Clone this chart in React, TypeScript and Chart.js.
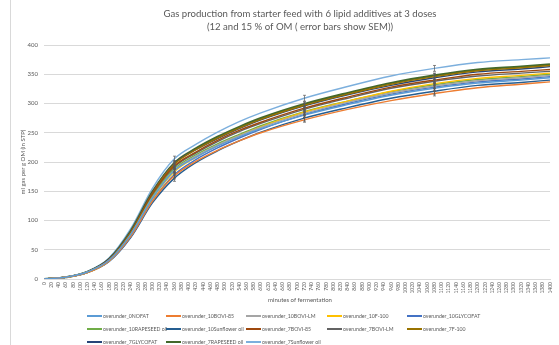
import React, { useEffect, useRef } from "react";
import { Chart, registerables } from "chart.js";

Chart.register(...registerables);

const TITLE_LINES = [
  "Gas production from starter feed with 6 lipid additives at 3 doses",
  "(12 and 15 % of OM ( error bars show SEM))",
];
const X_TITLE = "minutes of fermentation";
const Y_TITLE = "ml gas per g OM (in STP)";

// x tick labels (minutes), every 20
const X_TICKS: number[] = [];
for (let m = 0; m <= 1400; m += 20) X_TICKS.push(m);
const Y_TICKS = [0, 50, 100, 150, 200, 250, 300, 350, 400];

// sampling times (minutes)
const TIMES = [0, 60, 120, 180, 240, 300, 360, 420, 480, 540, 600, 720, 840, 960, 1080, 1200, 1320, 1400];

const NAMES = [
  "overunder_0NOFAT",
  "overunder_10BOVI-85",
  "overunder_10BOVI-LM",
  "overunder_10F-100",
  "overunder_10GLYCOFAT",
  "overunder_10RAPESEED oil",
  "overunder_10Sunflower oil",
  "overunder_7BOVI-85",
  "overunder_7BOVI-LM",
  "overunder_7F-100",
  "overunder_7GLYCOFAT",
  "overunder_7RAPESEED oil",
  "overunder_7Sunflower oil",
];

const V_0NOFAT = [0, 3, 12, 32, 76, 138, 185, 208, 227, 243, 257, 280, 298, 314, 326, 335, 340, 344];
const V_10BOVI85 = [0, 3, 11, 31, 73, 133, 176, 201, 220, 236, 250, 272, 290, 305, 317, 327, 333, 337];
const V_10BOVILM = [0, 3, 12, 32, 76, 139, 186, 210, 229, 245, 259, 283, 302, 318, 330, 339, 344, 348];
const V_10F100 = [0, 3, 11, 31, 74, 137, 183, 208, 228, 245, 260, 285, 304, 321, 334, 343, 348, 352];
const V_10GLYCOFAT = [0, 3, 11, 30, 72, 133, 178, 204, 224, 241, 256, 281, 300, 316, 328, 337, 342, 346];
const V_10RAPESEED = [0, 3, 12, 32, 77, 141, 188, 212, 231, 247, 262, 286, 304, 320, 332, 341, 346, 350];
const V_10SUNFLOWER = [0, 3, 11, 30, 71, 130, 172, 199, 219, 236, 251, 275, 293, 309, 321, 331, 336, 340];
const V_7BOVI85 = [0, 3, 12, 33, 79, 145, 193, 217, 237, 254, 268, 292, 311, 328, 340, 350, 355, 358];
const V_7BOVILM = [0, 3, 12, 33, 78, 143, 191, 215, 235, 252, 266, 290, 309, 326, 338, 347, 352, 355];
const V_7F100 = [0, 3, 12, 33, 80, 147, 196, 221, 241, 258, 273, 297, 316, 333, 346, 356, 361, 365];
const V_7GLYCOFAT = [0, 3, 12, 34, 81, 148, 197, 221, 240, 257, 272, 296, 315, 331, 344, 354, 359, 363];
const V_7RAPESEED = [0, 3, 12, 34, 82, 149, 198, 223, 243, 260, 275, 299, 318, 335, 348, 358, 363, 367];
const V_7SUNFLOWER = [0, 3, 13, 36, 86, 155, 205, 230, 251, 269, 284, 309, 329, 347, 360, 370, 375, 378];

const SERIES = [
  V_0NOFAT, V_10BOVI85, V_10BOVILM, V_10F100, V_10GLYCOFAT, V_10RAPESEED, V_10SUNFLOWER,
  V_7BOVI85, V_7BOVILM, V_7F100, V_7GLYCOFAT, V_7RAPESEED, V_7SUNFLOWER,
];

// error bars (SEM) at these times, one value per series
const ERR_TIMES = [360, 720, 1080];
const SEM_360 = [4, 5, 4, 4, 5, 4, 5, 4, 4, 4, 5, 4, 5];
const SEM_720 = [4, 4, 4, 4, 4, 4, 5, 4, 4, 4, 4, 4, 5];
const SEM_1080 = [5, 4, 4, 4, 5, 4, 5, 4, 4, 5, 4, 4, 5];
const SEMS = [SEM_360, SEM_720, SEM_1080];

const COLORS = [
  "#5B9BD5", "#ED7D31", "#A5A5A5", "#FFC000", "#4472C4", "#70AD47", "#255E91",
  "#9E480E", "#636363", "#997300", "#264478", "#43682B", "#7CAFDD",
];

const FONT = "Lato, 'Open Sans', sans-serif";
const TEXT = "#595959";

const decor = {
  id: "decor",
  beforeDraw(chart: any) {
    const { ctx, width, height } = chart;
    ctx.save();
    ctx.fillStyle = "#ffffff";
    ctx.fillRect(0, 0, width, height);
    ctx.strokeStyle = "#d9d9d9";
    ctx.lineWidth = 1;
    ctx.beginPath();
    ctx.moveTo(10.5, 0);
    ctx.lineTo(10.5, height);
    ctx.stroke();
    ctx.restore();
  },
  afterDatasetsDraw(chart: any) {
    const { ctx } = chart;
    const xs = chart.scales.x;
    const ys = chart.scales.y;
    ctx.save();
    ctx.strokeStyle = "#595959";
    ctx.lineWidth = 0.7;
    ERR_TIMES.forEach((t, k) => {
      const idx = TIMES.indexOf(t);
      const px = Math.round(xs.getPixelForValue(t)) + 0.5;
      SERIES.forEach((s, i) => {
        const v = s[idx];
        const e = SEMS[k][i];
        const y1 = ys.getPixelForValue(v + e);
        const y2 = ys.getPixelForValue(v - e);
        ctx.beginPath();
        ctx.moveTo(px, y1);
        ctx.lineTo(px, y2);
        ctx.moveTo(px - 1.5, y1);
        ctx.lineTo(px + 1.5, y1);
        ctx.moveTo(px - 1.5, y2);
        ctx.lineTo(px + 1.5, y2);
        ctx.stroke();
      });
    });
    ctx.restore();
  },
  afterDraw(chart: any) {
    const { ctx, chartArea } = chart;
    ctx.save();
    ctx.fillStyle = TEXT;
    ctx.textAlign = "center";
    ctx.textBaseline = "middle";
    ctx.font = `9.6px ${FONT}`;
    ctx.fillText(TITLE_LINES[0], 300, 14);
    ctx.fillText(TITLE_LINES[1], 300, 27);
    ctx.font = `6px ${FONT}`;
    ctx.fillText(X_TITLE, 300, 300);
    ctx.save();
    ctx.translate(23, (chartArea.top + chartArea.bottom) / 2);
    ctx.rotate(-Math.PI / 2);
    ctx.fillText(Y_TITLE, 0, 0);
    ctx.restore();

    // legend: 5 columns
    ctx.font = `5.2px ${FONT}`;
    ctx.textAlign = "left";
    const colX = [87, 166, 246, 327, 407];
    const rowY = [316, 329, 342];
    NAMES.forEach((name, i) => {
      const c = i % 5;
      const r = Math.floor(i / 5);
      const x = colX[c];
      const y = rowY[r];
      ctx.strokeStyle = COLORS[i];
      ctx.lineWidth = 2;
      ctx.beginPath();
      ctx.moveTo(x, y);
      ctx.lineTo(x + 15, y);
      ctx.stroke();
      ctx.fillStyle = TEXT;
      ctx.fillText(name, x + 16, y);
    });
    ctx.restore();
  },
};

export default function App() {
  const ref = useRef<HTMLCanvasElement | null>(null);
  useEffect(() => {
    if (!ref.current) return;
    const chart = new Chart(ref.current, {
      type: "line",
      data: {
        datasets: SERIES.map((s, i) => ({
          label: NAMES[i],
          data: s.map((v, j) => ({ x: TIMES[j], y: v })),
          borderColor: COLORS[i],
          backgroundColor: COLORS[i],
          borderWidth: i === 11 ? 2.2 : 1.4,
          pointRadius: 0,
          cubicInterpolationMode: "monotone" as const,
          fill: false,
        })),
      },
      options: {
        responsive: false,
        animation: false,
        devicePixelRatio: 1,
        layout: { padding: { top: 45, right: 4, bottom: 40, left: 0 } },
        plugins: {
          legend: { display: false },
          title: { display: false },
          tooltip: { enabled: false },
        },
        scales: {
          x: {
            type: "linear",
            min: 0,
            max: 1400,
            afterBuildTicks: (scale: any) => {
              scale.ticks = X_TICKS.map((v) => ({ value: v }));
            },
            afterFit: (scale: any) => {
              scale.height = 26;
            },
            grid: { display: false, drawTicks: false },
            border: { display: true, color: "#d9d9d9" },
            ticks: {
              autoSkip: false,
              maxRotation: 90,
              minRotation: 90,
              padding: 3,
              color: TEXT,
              font: { size: 5, family: FONT },
              callback: (v: any) => String(v),
            },
          },
          y: {
            min: 0,
            max: 400,
            afterBuildTicks: (scale: any) => {
              scale.ticks = Y_TICKS.map((v) => ({ value: v }));
            },
            afterFit: (scale: any) => {
              scale.width = 44;
            },
            grid: { color: "#d9d9d9", drawTicks: false },
            border: { display: false },
            ticks: {
              padding: 6,
              color: TEXT,
              font: { size: 6, family: FONT },
            },
          },
        },
      },
      plugins: [decor],
    });
    return () => chart.destroy();
  }, []);
  return (
    <div style={{ position: "absolute", left: 0, top: 0, width: 559, height: 345, background: "#fff" }}>
      <canvas ref={ref} width={559} height={345} />
    </div>
  );
}
